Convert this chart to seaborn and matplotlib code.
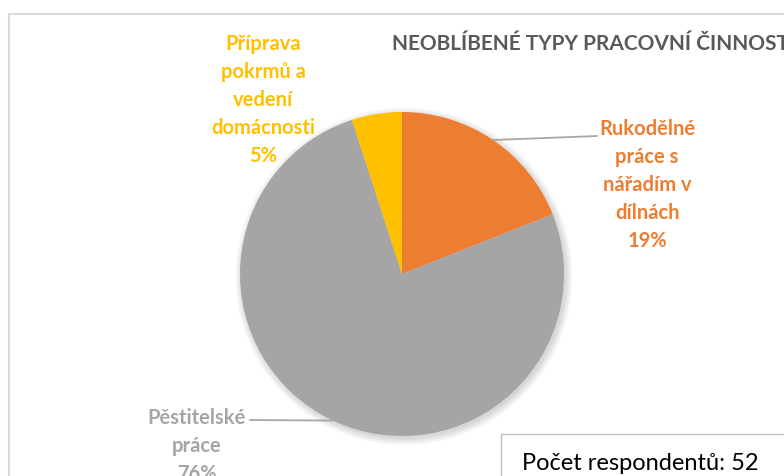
import numpy as np
import matplotlib.pyplot as plt
import matplotlib.patches as mpatches
import seaborn as sns

# data
categories = ['Rukodělné\npráce s\nnářadím v\ndílnách', 'Pěstitelské\npráce', 'Příprava\npokrmů a\nvedení\ndomácnosti']
shares = [19, 76, 5]
slice_colors = ['#ED7D31', '#A5A5A5', '#FFC000']
title = 'NEOBLÍBENÉ TYPY PRACOVNÍ ČINNOSTI'
respondents = 52

sns.set_theme(style='white')
plt.rcParams['font.family'] = ['Lato', 'DejaVu Sans']
palette = sns.color_palette(slice_colors)

W, H = 784, 477
fig = plt.figure(figsize=(W / 100, H / 100), dpi=100)
fig.patch.set_facecolor('white')

# outer chart border (cut off on the right and bottom)
fig.patches.append(mpatches.Rectangle((9 / W, -0.05), 1.1, (H - 15) / H + 0.05,
                                      transform=fig.transFigure, fill=False,
                                      edgecolor='#D9D9D9', lw=1.5))

# pie axes: centre (402, 275) px, radius 162 px
cx, cy, r = 402, 275, 162
ax = fig.add_axes([(cx - r) / W, (H - cy - r) / H, 2 * r / W, 2 * r / H])

# soft shadow behind the pie
for k in range(8):
    ax.add_patch(mpatches.Circle((0.012, -0.015), 1.0 + k * 0.006, color='black',
                                 alpha=0.018, lw=0, zorder=0, clip_on=False))

wedges, _ = ax.pie(shares, colors=palette, startangle=90, counterclock=False,
                   radius=1, wedgeprops=dict(linewidth=0, zorder=2))
ax.set_xlim(-1, 1)
ax.set_ylim(-1, 1)
ax.set_aspect('auto')
ax.axis('off')

# labels: (x px, y px of centre) and leader line end in px
label_pos = [(647, 185, (597, 137)), (197, 446, (250, 421)), (263, 100, None)]
for w, lab, val, col, (lx, ly, lead) in zip(wedges, categories, shares, slice_colors, label_pos):
    fig.text(lx / W, 1 - ly / H, f'{lab}\n{val}%', color=col, fontsize=14.5,
             fontweight='bold', ha='center', va='center', multialignment='center',
             linespacing=1.5)
    if lead is not None:
        mid = np.deg2rad((w.theta1 + w.theta2) / 2)
        ax.annotate('', xy=(np.cos(mid), np.sin(mid)), xycoords='data',
                    xytext=(lead[0] / W, 1 - lead[1] / H), textcoords='figure fraction',
                    arrowprops=dict(arrowstyle='-', color='#A6A6A6', lw=1.3,
                                    shrinkA=0, shrinkB=0), zorder=3)

fig.text(392 / W, 1 - 44 / H, title, color='#595959', fontsize=15,
         fontweight='bold', ha='left', va='center')

# respondents box
fig.patches.append(mpatches.Rectangle((501 / W, -0.05), 0.5, (H - 435) / H + 0.05,
                                      transform=fig.transFigure, facecolor='white',
                                      edgecolor='#BFBFBF', lw=1, zorder=5))
fig.text(522 / W, 1 - 470 / H, f'Počet respondentů: {respondents}', color='black',
         fontsize=17, ha='left', va='baseline', zorder=6)

fig.savefig('out.png', dpi=100)
